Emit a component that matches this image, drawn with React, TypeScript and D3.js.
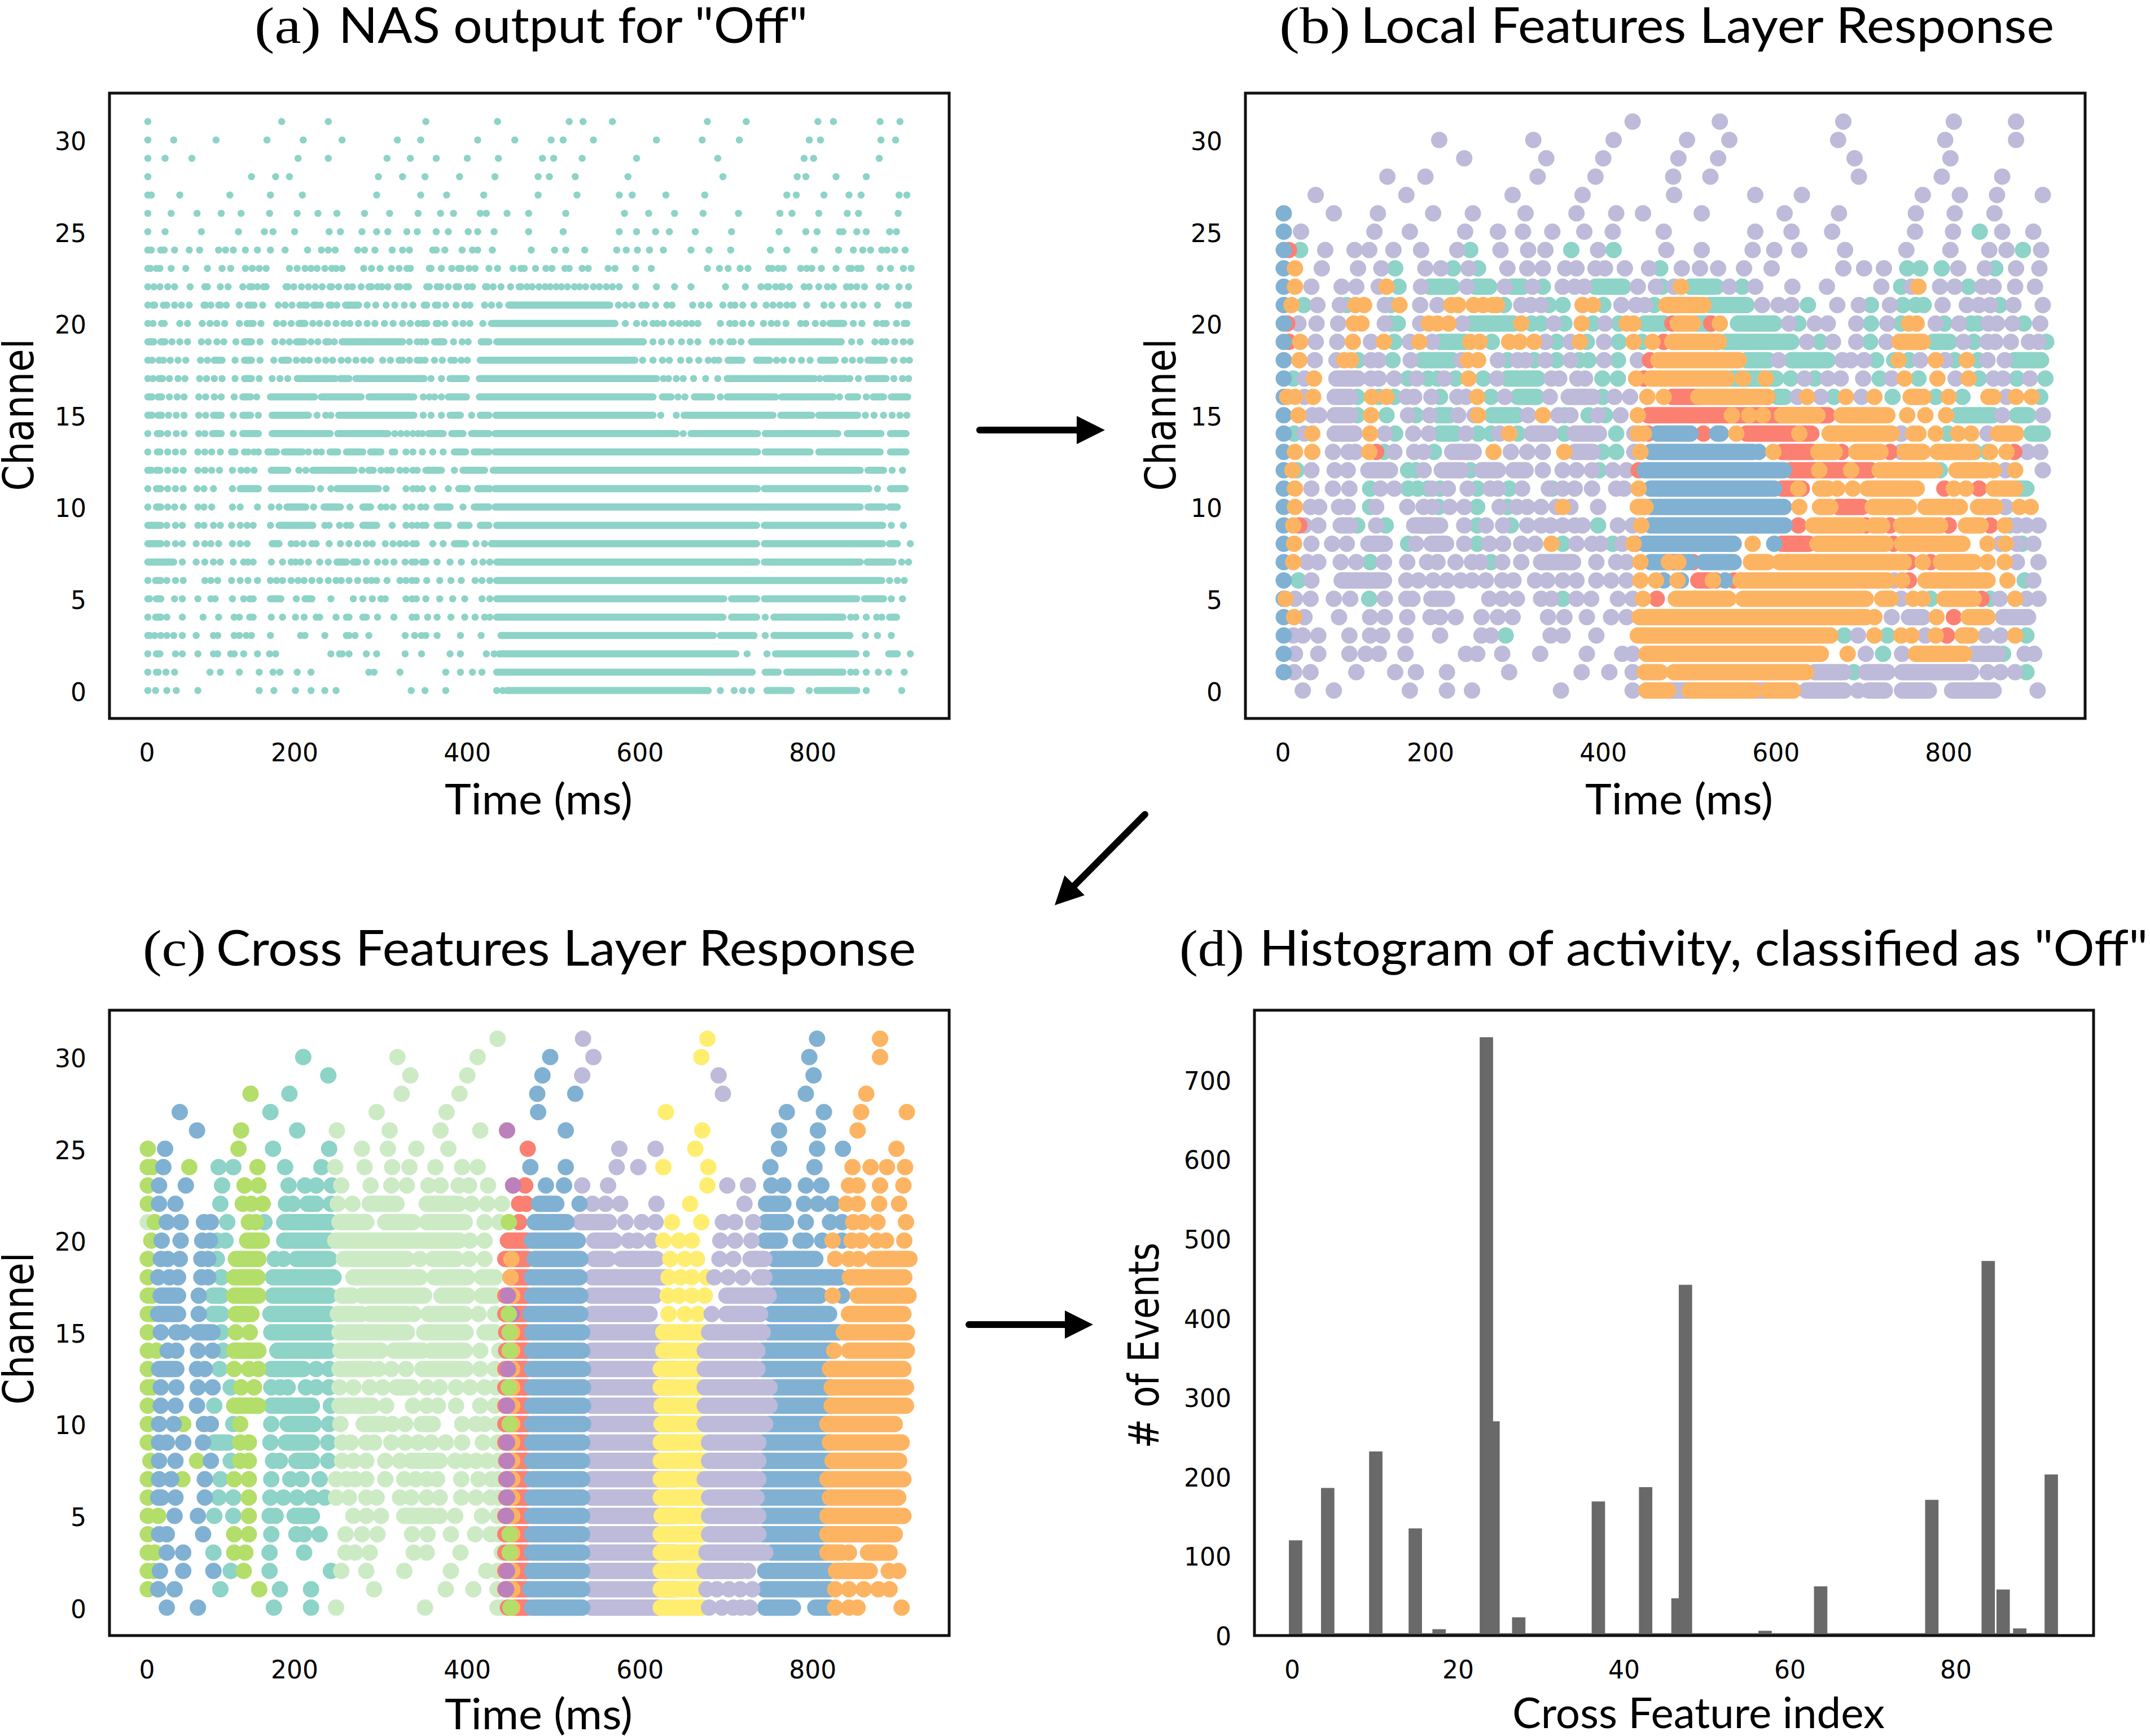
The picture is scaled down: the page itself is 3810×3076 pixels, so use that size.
import React from "react";
import * as d3 from "d3";

type Mark = number | [number, number];
type Rows = Record<number, Mark[]>;

const timeTickPositions = [29, 200, 400, 600, 800];
const timeTickLabels = ["0", "200", "400", "600", "800"];
const channelTicks = [0, 5, 10, 15, 20, 25, 30];
const eventTicks = [0, 100, 200, 300, 400, 500, 600, 700];
const featureTicks = [0, 20, 40, 60, 80];

const SET3 = { teal: "#8dd3c7", yellow: "#ffed6f", lav: "#bebada", red: "#fb8072", blue: "#80b1d3", orange: "#fdb462", lime: "#b3de69", green: "#ccebc5", magenta: "#bc80bd" };

const nasRows: Rows = {
  31: [30,185,239,352,435,518,534,568,678,723,806,824,878,901],
  30: [30,60,109,168,210,255,319,346,412,455,497,511,546,619,672,715,796,809,879,896],
  29: [30,50,81,204,239,307,334,364,400,436,487,500,533,596,690,790,801,877],
  28: [30,150,178,194,297,325,351,391,432,482,495,525,586,696,782,792,827,862],
  27: [30,34,67,125,172,209,295,346,376,419,482,527,576,591,630,675,770,781,813,842,856,900,909],
  26: [30,57,87,115,138,171,203,227,249,281,310,343,369,384,415,422,446,471,514,582,610,640,673,714,762,776,807,840,853,899],
  25: [30,50,92,135,165,175,200,240,253,278,295,308,330,342,364,378,401,412,431,471,511,576,596,618,634,664,706,761,792,805,831,835,851,862,889,897],
  24: [30,34,45,49,61,78,90,112,120,129,143,157,172,189,215,231,239,247,273,281,293,313,325,333,360,364,374,394,406,412,429,474,501,514,536,573,584,597,611,627,659,680,705,751,770,802,830,847,858,867,880,886,895,907],
  23: [30,33,40,44,57,74,99,116,126,143,151,159,167,194,203,212,219,226,235,243,248,255,280,289,299,312,321,330,334,356,358,370,382,390,393,402,409,425,435,453,462,466,479,491,498,513,518,533,540,563,571,595,613,678,692,702,716,725,749,753,760,766,786,793,799,810,827,842,845,852,856,878,890,905,914],
  22: [30,37,44,53,61,79,96,99,114,123,140,148,151,157,164,167,190,192,199,208,216,224,232,241,243,251,261,267,277,286,289,296,301,308,319,322,329,332,353,356,365,369,378,387,390,400,406,421,423,430,439,450,460,462,469,475,483,490,496,503,509,516,524,530,537,546,553,561,568,576,595,619,640,659,699,722,740,747,749,757,763,765,773,790,796,807,817,824,839,844,851,860,877,885,900,911],
  21: [30,36,38,48,52,61,69,78,95,97,103,112,114,121,136,146,149,153,163,181,189,197,206,211,214,222,225,230,240,243,249,[259,274],284,294,306,316,327,337,350,353,363,366,375,387,397,403,420,428,437,[448,565],575,583,591,602,607,618,631,637,661,671,680,696,705,710,719,732,746,754,762,770,777,793,813,822,836,848,858,875,899,908,911],
  20: [30,36,46,49,67,76,93,102,110,119,136,145,149,152,161,179,187,196,[205,212],221,229,238,248,257,264,274,284,293,304,314,325,334,343,349,353,364,366,374,386,395,403,418,[428,571],583,596,605,615,620,627,637,645,653,660,667,693,704,710,719,729,743,752,759,769,786,792,803,812,[820,836],847,857,874,881,885,897,906,909],
  19: [[30,37],[45,50],58,67,76,92,100,110,118,132,[142,150],160,177,186,194,[202,211],219,227,[236,240],246,[255,325],333,342,347,352,[362,373],384,394,401,[416,425],[434,604],615,625,636,648,658,667,684,693,704,708,717,[729,833],845,855,872,880,885,895,905,913],
  18: [30,35,43,48,56,65,74,91,99,[107,116],131,[142,150],160,176,[185,193],202,210,217,227,236,244,254,262,271,280,288,302,311,321,325,333,342,346,351,362,371,381,385,393,400,[415,594],603,615,626,634,647,657,668,679,686,691,[702,718],[735,750],758,766,776,787,797,[809,826],837,846,855,[864,883],894,905,912],
  17: [30,36,[43,47],55,65,73,90,98,107,116,131,[142,150],159,174,183,192,[203,247],[253,263],[271,349],350,358,370,[380,399],[414,619],627,633,642,650,662,676,690,[701,802],808,[815,838],843,853,[864,885],894,904,911],
  16: [[30,35],[42,46],55,64,72,89,97,107,115,130,[140,149],156,[172,223],[231,277],[286,338],349,356,362,370,[378,399],[414,615],[626,636],644,652,[663,683],693,[701,757],[764,824],831,[841,852],862,[870,882],[891,910]],
  15: [[30,35],[42,46],54,63,72,89,97,[106,115],129,[140,149],158,[174,216],226,236,242,[251,338],349,358,370,[380,392],405,[415,425],[433,615],624,642,[651,754],[763,799],[807,852],861,871,882,892,901,909],
  14: [30,[41,45],53,63,72,89,96,[105,115],129,[140,158],[174,241],[250,308],316,323,330,337,343,348,[355,372],[382,395],[405,425],[432,642],650,[659,736],[745,829],[840,879],[890,908]],
  13: [30,[41,44],53,62,71,88,96,104,114,[127,131],142,146,153,158,[169,179],[188,209],216,225,231,[241,250],[260,279],[288,300],313,316,329,337,348,360,372,[385,398],[408,425],[432,736],[745,797],[807,878],[890,908]],
  12: [[30,34],[40,44],53,62,71,88,96,104,113,128,138,145,153,[173,192],205,213,[221,269],278,[286,291],300,307,312,322,329,337,342,[352,370],385,[395,420],[430,855],[864,882],892,904],
  11: [30,[40,45],53,62,71,87,95,106,128,[137,158],[173,216],220,230,242,[249,297],306,329,337,342,348,360,378,[390,400],[412,426],[432,736],[744,865],875,[890,907]],
  10: [30,[40,45],53,61,71,88,95,104,128,137,157,173,182,[191,213],222,[234,253],264,[279,288],300,306,314,329,336,346,352,[365,380],395,[408,425],[432,855],[864,882],[889,898]],
  9: [[30,45],52,62,70,88,95,106,114,127,137,145,152,172,[182,221],235,240,252,260,265,[279,295],313,329,336,342,348,352,[365,378],[392,402],[415,425],[434,735],[744,881],891,905],
  8: [[30,45],52,62,70,86,96,103,112,128,137,145,[174,182],196,202,210,220,225,240,253,263,273,283,290,305,314,322,329,337,341,360,372,[385,398],410,420,[428,735],[744,881],[889,898],913],
  7: [[30,60],70,86,96,106,114,129,141,146,152,173,186,196,201,207,216,229,239,[249,260],[268,273],283,296,305,315,328,336,340,348,352,365,380,393,408,418,426,[434,735],[744,855],[863,893],903,911],
  6: [30,[39,45],52,62,71,96,103,111,127,137,146,157,172,179,186,196,204,211,220,229,239,248,254,263,273,283,289,295,307,322,329,336,341,353,368,381,393,409,417,426,[434,880],889,898,906],
  5: [30,32,[40,45],61,70,88,103,108,128,141,148,152,[172,184],202,[212,220],242,268,279,290,300,305,329,336,341,352,368,383,397,417,426,[434,697],[706,735],[744,851],[860,882],891,904],
  4: [30,[39,45],52,70,94,112,130,136,148,152,173,186,201,211,225,229,248,260,263,279,283,296,315,336,341,354,365,381,397,409,420,426,[434,696],[706,735],745,[755,835],844,850,862,874,880,[889,897]],
  3: [30,32,38,45,52,60,70,86,106,111,130,136,144,150,172,207,212,235,260,263,270,286,328,339,347,352,365,392,416,[439,685],[693,732],745,[755,843],861,875,891],
  2: [30,[40,44],62,70,88,106,111,126,130,141,157,171,178,242,252,255,263,283,295,328,347,380,392,422,431,[437,711],724,747,[757,850],862,[888,898],913],
  1: [30,40,42,51,61,102,114,136,159,175,183,203,219,286,292,322,375,392,406,417,[434,730],[745,760],[770,835],844,850,862,876,888,906],
  0: [30,39,52,63,88,159,176,201,219,235,248,335,351,375,434,441,[446,679],693,709,719,729,[747,775],796,[805,851],862,903],
};

const localTeal: Rows = {
  25: [836],
  24: [49,246,363,412,886],
  23: [159,226,255,466,752,767,792,854],
  22: [163,[199,225],[252,268],[294,307],330,[391,423],468,[501,531],561,745,823],
  21: [53,103,154,285,337,353,400,459,[523,566],637,710,747,762,771,859],
  20: [154,162,[247,296],317,328,355,388,418,[448,471],508,[510,525],[556,598],626,710,745,795,826,834,887],
  19: [158,[211,240],271,346,381,418,445,[541,618],651,709,[782,801],829,913],
  18: [116,156,[190,225],289,320,346,372,383,417,[566,591],[618,660],716,737,754,807,834,[876,907]],
  17: [41,174,197,208,229,261,[289,324],399,417,[548,600],617,645,720,765,835,879,912],
  16: [115,140,158,211,270,[301,323],399,[602,610],667,735,785,816,906],
  15: [115,149,183,[209,222],[271,300],355,383,402,[810,851],[879,892]],
  14: [42,159,[211,229],255,270,301,355,415,745,799,[896,909]],
  13: [146,204,399,415,830,845],
  12: [45,174,183,246,395,790],
  11: [130,174,185,197,211,254,291,341,[880,890]],
  10: [130,209,254,289,866],
  9: [115,148,[190,200],254,293,394,870],
  8: [174,254,353,411,885],
  7: [130,270],
  6: [47,888],
  5: [129,353,779,848],
  3: [287,679,729,890],
  2: [724,863],
  1: [690,890],
};

const localPurple: Rows = {
  31: [434,535,678,806,878],
  30: [210,319,412,497,546,672,796,878],
  29: [239,334,400,487,533,691,802],
  28: [150,194,324,391,481,524,696,792,862],
  27: [67,172,295,376,482,576,630,770,813,856,909],
  26: [88,139,203,249,310,369,415,446,514,610,673,762,807,853],
  25: [50,135,176,240,278,307,341,378,411,470,576,618,665,761,805,862,898],
  24: [78,112,129,157,189,231,281,313,333,394,473,514,573,598,627,680,751,802,847,867,907],
  23: [74,116,143,194,212,244,289,312,330,356,369,391,402,425,453,491,512,533,563,595,678,702,725,811,842,878,905],
  22: [62,97,114,140,189,242,286,318,353,367,378,440,461,482,546,576,619,659,722,757,790,807,839,852,877,900],
  21: [69,95,147,188,208,305,316,328,421,438,448,584,603,618,671,696,732,793,821,835,848,875,909],
  20: [47,68,93,147,188,237,343,402,615,645,660,693,729,785,812,846,856,874,906],
  19: [67,92,131,176,202,333,362,401,636,666,693,728,817,845,854,872,893,904],
  18: [66,91,131,140,177,236,278,301,310,333,362,401,440,603,677,687,702,767,796,845,865],
  17: [54,[91,116],131,140,158,184,216,277,340,349,370,379,633,660,675,701,734,808,852,863,894],
  16: [54,[89,107],172,181,201,231,241,286,338,[360,388],413,431,625,652,699,867],
  15: [63,71,[89,107],174,199,232,251,313,348,362,394,420,862,909],
  14: [54,[89,112],147,180,198,241,280,[317,339],[367,395],436,745,845],
  13: [87,105,113,158,181,192,[225,250],293,312,330,[367,388],436,745,891,906],
  12: [62,89,104,[128,153],192,[213,236],[259,278],[296,310],330,353,369,387,411,427,866,909],
  11: [62,87,106,142,158,202,220,243,269,278,306,337,353,367,387,415,424],
  10: [61,71,94,104,137,173,192,202,222,239,280,300,312,328,346,362,394,865],
  9: [54,70,[96,107],137,[181,211],239,264,284,312,328,339,353,367,376,417,434,800,879,890,904],
  8: [62,86,103,[128,147],183,[201,218],239,268,284,305,321,369,387,397,422,435,860,879,898],
  7: [57,70,96,114,146,173,196,208,229,248,258,283,305,[328,365],392,415,427,879,904],
  6: [62,[97,146],172,186,203,219,235,248,264,283,296,321,335,353,369,392,409,427,737,898],
  5: [43,61,88,107,147,172,179,[201,219],268,283,300,328,340,369,386,417,434,745,859,890,904],
  4: [54,94,130,147,173,200,211,229,259,278,295,336,355,381,409,427,734,[754,770],[863,892]],
  3: [41,52,70,106,130,144,171,211,259,270,339,353,392,695,773,843,860],
  2: [43,70,106,125,140,171,241,254,283,327,381,422,434,704,746,[829,857],888,899],
  1: [42,61,114,159,183,219,291,375,407,434,[645,679],[704,729],[746,826],845,860,877],
  0: [52,88,176,219,248,351,434,[450,620],[635,679],695,[707,726],[746,777],[804,852],903],
};

const localRed: Rows = {
  24: [36],
  20: [34,480,525],
  19: [36,470],
  18: [454],
  17: [447],
  16: [[480,510],590],
  15: [[452,660]],
  14: [452,516,[566,641]],
  13: [137,[607,642],676,732,876],
  12: [441,[617,710]],
  11: [[607,630],795,835],
  10: [[672,700]],
  9: [48,626,704,732,800,848],
  8: [437,[607,638],736],
  7: [504,754,779],
  6: [[510,530],551,746,754],
  5: [462,838],
  4: [806],
  3: [798],
};

const localBlue: Rows = {
  26: [30], 25: [30], 24: [30], 23: [30], 22: [30], 21: [30], 20: [30], 19: [30], 18: [30], 17: [30], 16: [30], 15: [30],
  14: [30,[463,501],[532,536]],
  13: [30,[455,573],580],
  12: [30,[448,609]],
  11: [30,[455,598]],
  10: [30,[455,609]],
  9: [30,[455,610]],
  8: [30,[448,551],598],
  7: [30,[455,500],[516,551]],
  6: [30,470,490,541],
  5: [30], 4: [30], 3: [30], 2: [30], 1: [30],
};

const localOrange: Rows = {
  23: [43],
  22: [43,149,490,765],
  21: [39,113,123,164,224,232,250,261,272,277,376,388,[473,516]],
  20: [111,120,198,208,221,305,375,427,435,[486,500],504,535,754,763],
  19: [49,110,146,187,246,257,291,303,320,373,435,457,[480,534],[743,770]],
  18: [48,100,108,243,255,[464,557],742,785,821],
  17: [65,244,438,[455,543],562,588,749,787,823],
  16: [34,43,64,132,149,254,451,470,[510,590],636,681,714,[756,771],800,[846,852],878,896],
  15: [47,131,255,330,440,549,569,585,[607,648],[676,729],752,773,797],
  14: [63,130,291,440,447,554,627,[662,734],759,765,785,811,826,[857,878]],
  13: [43,63,129,273,355,443,597,[649,668],[693,721],[749,770],[787,828],848,867],
  12: [40,650,687,[720,784],[809,843],852,877],
  11: [43,441,626,[651,660],671,689,[706,763],806,820,[852,877]],
  10: [43,353,[440,449],627,[651,663],[712,754],[773,813],[834,854],882,895],
  9: [41,444,[643,698],[713,723],[745,790],[820,837],865],
  8: [42,340,435,573,[648,727],[746,816],845,866],
  7: [41,443,476,487,[571,590],[604,748],770,[791,829],845,865],
  6: [443,461,486,527,[559,729],746,[773,845],868],
  5: [32,446,[484,545],[562,704],[723,733],759,770,[795,829],877],
  4: [42,[442,704],714,786,[823,845]],
  3: [[440,663],714,745,757,785,[816,826],877],
  2: [[450,652],683,[762,818]],
  1: [[448,466],[482,635]],
  0: [[450,475],[500,574],[590,620]],
};

const crossPurpleA: Rows = {
  23: [533,563], 22: [545,560,577,619], 21: [[531,564],583,602,618],
  20: [[547,570],587,597,614], 19: [[547,563],[578,619]], 18: [[545,628]], 17: [[544,617]], 16: [[544,611]],
  15: [[544,625]], 14: [[544,630]], 13: [[544,640]], 12: [[544,640]], 11: [[544,640]], 10: [[544,640]], 9: [[544,640]],
  8: [[544,640]], 7: [[544,640]], 6: [[544,640]], 5: [[544,640]], 4: [[544,640]], 3: [[544,640]], 2: [[544,640]], 1: [[544,640]], 0: [[544,640]],
  31: [534], 30: [546], 29: [533], 26: [], 25: [576,618], 24: [573,598],
};
const crossYellow: Rows = {
  31: [678], 30: [671], 27: [630], 26: [672], 25: [664], 24: [627,679], 23: [678], 22: [658], 21: [637,671],
  20: [627,645,660], 19: [635,652,666], 18: [633,647,660,677], 17: [632,645,660,675], 16: [633,652,667],
  15: [[627,680]], 14: [[627,667]], 13: [[624,673]], 12: [[624,673]], 11: [[625,673]], 10: [[625,673]], 9: [[624,673]],
  8: [[624,675]], 7: [[624,673]], 6: [[624,673]], 5: [[625,673]], 4: [[624,673]], 3: [[624,673]], 2: [[624,673]], 1: [[624,673]], 0: [[624,673]],
};
const crossTeal: Rows = {
  30: [210], 29: [239], 28: [194], 27: [172], 26: [203], 25: [175,240], 24: [112,129,189,231],
  23: [116,193,212,225,243], 22: [114,190,198,[215,225],242], 21: [122,165,[188,242]], 20: [110,120,[188,240]],
  19: [110,177,187,[202,240]], 18: [115,[175,245]], 17: [[105,115],[175,240]], 16: [[105,115],[172,240]],
  15: [115,[173,240]], 14: [117,[180,240]], 13: [113,[173,210],225,240], 12: [126,173,183,192,213,225,240],
  11: [107,[173,220],242], 10: [129,173,[192,222],240], 9: [[107,123],172,[190,220],239], 8: [126,175,183,[202,220],239],
  7: [114,173,195,208,229], 6: [112,129,172,187,203,220,235], 5: [107,129,171,178,[200,220]], 4: [173,202,211,229],
  3: [106,171,211], 2: [126,171,242], 1: [114,183,219], 0: [176,219],
};
const crossGreen: Rows = {
  31: [435], 30: [319,412], 29: [334,400], 28: [324,391], 27: [295,376], 26: [249,310,369,415], 25: [278,308,341,378],
  24: [247,281,313,333,363,394,412], 23: [254,288,312,330,355,369,390,402,424],
  22: [250,267,[287,318],[353,390],405,423,440], 21: [30,[252,283],[305,337],[353,397],420,437],
  20: [[247,390],403,420], 19: [[257,330],345,[360,387],402,420], 18: [[268,345],[362,400],[417,432]],
  17: [[255,267],[278,350],[370,400],[417,432]], 16: [[250,277],[287,330],338,[355,397],413,432],
  15: [[252,330],[350,398],[420,432]], 14: [[253,300],[315,348],[358,397],415,437], 13: [[252,287],297,312,329,[348,398],415,432],
  12: [252,268,287,302,[318,335],353,368,387,403,420,433], 11: [[252,290],306,337,353,366,387,415,432],
  10: [253,[280,302],313,328,[347,360],394,410,420,435], 9: [255,265,283,292,312,328,343,358,375,394,418,435],
  8: [255,268,283,305,322,[335,368],386,398,410,423,436], 7: [248,260,270,283,305,327,340,353,365,393,413,428,436],
  6: [248,263,283,295,322,335,353,368,393,410,427,436], 5: [268,283,300,[327,360],368,386,417,435], 4: [259,278,296,336,354,381,409,427,436],
  3: [259,270,287,338,353,392,440], 2: [254,283,327,381,422,435], 1: [292,375,407,435], 0: [248,351,435,440],
};
const crossRed: Rows = {
  25: [470], 23: [467], 22: [460,468], 21: [460], 20: [[447,470]], 19: [[444,470]], 18: [[450,470]],
  17: [[444,470]], 16: [[444,470]], 15: [[445,470]], 14: [[445,470]], 13: [[444,470]], 12: [[444,470]], 11: [[444,470]], 10: [[444,470]],
  9: [[444,470]], 8: [[445,470]], 7: [[445,470]], 6: [[445,470]], 5: [[444,470]], 4: [[444,470]], 3: [[444,470]], 2: [[444,470]], 1: [[444,470]], 0: [[447,470]],
};
const crossMidOrange: Rows = {
  19: [451], 18: [450], 17: [452], 16: [452], 15: [452], 14: [452], 13: [452], 12: [452], 11: [452], 10: [452], 9: [452],
  8: [452], 7: [452], 6: [452], 5: [452], 4: [452], 3: [452], 2: [452], 1: [452], 0: [452],
};
const crossMagenta: Rows = {
  26: [446], 23: [453], 17: [447], 16: [452], 13: [447], 11: [446], 9: [446], 8: [446], 7: [446], 6: [446], 5: [445], 2: [446], 1: [445],
};
const crossLime: Rows = {
  28: [149], 26: [138], 25: [30,135], 24: [30,35,78,157], 23: [30,142,158], 22: [30,140,150,163], 21: [38,147,155,448], 20: [34,[145,162]],
  19: [30,[132,158]], 18: [30,[130,157]], 17: [30,35,[130,158]], 16: [30,35,[132,150],448], 15: [30,132,148,449],
  14: [30,40,[130,158],449], 13: [30,130,147,158], 12: [30,35,138,153,448], 11: [30,[130,158]], 10: [30,71,137,449],
  9: [30,137,147], 8: [33,87,137,147], 7: [30,70,130,147], 6: [30,147], 5: [30,42,147], 4: [30,130,147,449],
  3: [30,38,130,143,449], 2: [30,37,141], 1: [30,159], 0: [450],
};
const crossBlue: Rows = {
  30: [496], 29: [487], 28: [481,525], 27: [67,482], 26: [87,514], 25: [50], 24: [48,473,514], 23: [43,74,491,512],
  22: [43,62,[483,503],530], 21: [52,68,95,103,[478,515]], 20: [46,68,93,102,[475,528]], 19: [45,53,67,92,100,[478,531]],
  18: [42,55,65,92,100,[475,530]], 17: [[45,65],89,[475,531]], 16: [[42,65],89,[473,531]], 15: [45,63,71,[88,105],[475,533]],
  14: [53,63,88,105,[475,533]], 13: [[43,63],87,96,[475,534]], 12: [45,63,88,105,[475,534]], 11: [45,62,87,[475,534]],
  10: [43,60,95,103,[475,534]], 9: [43,52,71,94,[475,533]], 8: [43,62,103,[475,533]], 7: [43,57,96,[475,533]],
  6: [[42,46],62,96,[475,533]], 5: [61,88,[475,533]], 4: [43,52,94,[475,533]], 3: [52,71,[475,533]], 2: [44,71,106,[475,533]],
  1: [42,61,[473,533]], 0: [52,88,[475,533]],
};
const crossBlueLate: Rows = {
  31: [805], 30: [796], 29: [801], 28: [792], 27: [770,813], 26: [761,806], 25: [761,805,835], 24: [751,802], 23: [752,766,792,810],
  22: [[746,766],790,806,823], 21: [[746,769],792,820,834], 20: [[745,762],786,792,811,834], 19: [[755,803]], 18: [[753,831]],
  17: [[755,808],834], 16: [[752,819]], 15: [[749,830]], 14: [[742,824]], 13: [[742,815]], 12: [[755,822]], 11: [[755,822]], 10: [[749,815]],
  9: [[742,820]], 8: [[742,820]], 7: [[742,815]], 6: [[740,815]], 5: [[742,815]], 4: [[742,815]], 3: [[752,815]], 2: [[745,820]], 1: [[744,819]], 0: [[745,777],[803,819]],
};
const crossPurpleB: Rows = {
  29: [691], 28: [696], 23: [701,725], 22: [721], 21: [696,710,731], 20: [693,710,729], 19: [692,708,[728,744]], 18: [686,702,719,[738,744]],
  17: [[700,749]], 16: [683,[700,739]], 15: [[680,742]], 14: [[675,736]], 13: [[675,736]], 12: [[675,750]], 11: [[675,750]], 10: [[675,745]],
  9: [[680,737]], 8: [[680,737]], 7: [[675,737]], 6: [[680,735]], 5: [[680,737]], 4: [[680,737]], 3: [[677,745]], 2: [[675,718],725], 1: [677,689,703,716,730], 0: [680,695,708,717,727],
};
const crossOrangeLate: Rows = {
  31: [878], 30: [878], 28: [862], 27: [856,909], 26: [852], 25: [897], 24: [846,867,886,907], 23: [842,852,878,905],
  22: [839,852,877,900], 21: [847,858,875,908], 20: [823,845,856,874,885,906], 19: [826,842,853,[870,912]], 18: [[843,906]],
  17: [823,[852,911]], 16: [[842,905]], 15: [[836,909]], 14: [825,[842,909]], 13: [[820,905]], 12: [[822,908]], 11: [[822,908]], 10: [[817,895]],
  9: [[820,903]], 8: [[823,900]], 7: [[817,905]], 6: [[820,899]], 5: [[817,905]], 4: [[817,895]], 3: [[817,833],842,[864,889]], 2: [[827,866],888,899], 1: [826,842,859,876,889], 0: [826,842,852,903],
};

const histogramFeature = [0.4,4.27,10.07,14.83,17.7,23.4,24.2,27.3,36.9,42.6,46.5,47.4,57,63.7,77.1,83.9,85.7,87.7,91.5];
const histogramEvents = [120,186,232,135,8,754,270,23,169,187,47,442,6,62,171,472,58,9,203];

const W = 1488;
const H = 1108;
const xTime = d3.scaleLinear().domain([-14.4, 958]).range([0, W]);
const yChannel = d3.scaleLinear().domain([-1.52, 32.55]).range([H, 0]);
const tickFont = "'DejaVu Sans'";

function Marks({ rows, color, size }: { rows: Rows; color: string; size: number }) {
  const out: React.ReactNode[] = [];
  Object.entries(rows).forEach(([ch, marks]) => {
    const y = yChannel(+ch);
    marks.forEach((m, i) => {
      if (typeof m === "number") out.push(<circle key={ch + "-" + i} cx={xTime(m)} cy={y} r={size / 2} fill={color} />);
      else out.push(<line key={ch + "-" + i} x1={xTime(m[0])} x2={xTime(m[1])} y1={y} y2={y} stroke={color} strokeWidth={size} strokeLinecap="round" />);
    });
  });
  return <g>{out}</g>;
}

function Frame({ w, h }: { w: number; h: number }) {
  return <rect x={0} y={0} width={w} height={h} fill="none" stroke="#111" strokeWidth={5} />;
}

function Raster({ left, top, layers, size }: { left: number; top: number; layers: { rows: Rows; color: string }[]; size: number }) {
  return (
    <g transform={`translate(${left},${top})`}>
      {layers.map((l, i) => <Marks key={i} rows={l.rows} color={l.color} size={size} />)}
      <Frame w={W} h={H} />
      {timeTickPositions.map((t, i) => (
        <text key={t} x={xTime(t)} y={H + 60} textAnchor="middle" dominantBaseline="central" fontFamily={tickFont} fontSize={44}>{timeTickLabels[i]}</text>
      ))}
      {channelTicks.map((c) => (
        <text key={c} x={-41} y={yChannel(c) + 2.5} textAnchor="end" dominantBaseline="central" fontFamily={tickFont} fontSize={44}>{c}</text>
      ))}
    </g>
  );
}

function Title({ tag, tagX, tagW, rest, restX, restW, y }: { tag: string; tagX: number; tagW: number; rest: string; restX: number; restW: number; y: number }) {
  return (
    <g>
      <text x={tagX} y={y} fontFamily="'Liberation Serif'" fontSize={92} textLength={tagW} lengthAdjust="spacingAndGlyphs">{tag}</text>
      <text x={restX} y={y} fontFamily="Lato" fontSize={88} textLength={restW} lengthAdjust="spacingAndGlyphs">{rest}</text>
    </g>
  );
}

function AxisLabel({ x, y, w, text }: { x: number; y: number; w: number; text: string }) {
  return <text x={x} y={y} fontFamily="Lato" fontSize={76} textLength={w} lengthAdjust="spacingAndGlyphs">{text}</text>;
}

function VerticalLabel({ x, yMid, w, text }: { x: number; yMid: number; w: number; text: string }) {
  return (
    <text transform={`translate(${x},${yMid}) rotate(-90)`} textAnchor="middle" fontFamily="'DejaVu Sans'" fontSize={74} textLength={w} lengthAdjust="spacingAndGlyphs">{text}</text>
  );
}

function Arrow({ x1, y1, x2, y2 }: { x1: number; y1: number; x2: number; y2: number }) {
  const a = Math.atan2(y2 - y1, x2 - x1);
  const L = 50;
  const B = 25;
  const bx = x2 - L * Math.cos(a);
  const by = y2 - L * Math.sin(a);
  const head = d3.line()([
    [x2, y2],
    [bx - B * Math.sin(a), by + B * Math.cos(a)],
    [bx + B * Math.sin(a), by - B * Math.cos(a)],
  ]) + "Z";
  return (
    <g>
      <line x1={x1} y1={y1} x2={bx} y2={by} stroke="#000" strokeWidth={12} strokeLinecap="round" />
      <path d={head} fill="#000" />
    </g>
  );
}

function Histogram({ left, top }: { left: number; top: number }) {
  const w = 1487;
  const h = 1108;
  const x = d3.scaleLinear().domain([-4.56, 96.6]).range([0, w]);
  const y = d3.scaleLinear().domain([0, 788]).range([h, 0]);
  const bw = 23.7;
  return (
    <g transform={`translate(${left},${top})`}>
      <line x1={x(0.4)} x2={x(91.5)} y1={y(2)} y2={y(2)} stroke="#696969" strokeWidth={3} />
      {histogramFeature.map((f, i) => (
        <rect key={i} x={x(f) - bw / 2} width={bw} y={y(histogramEvents[i])} height={y(0) - y(histogramEvents[i])} fill="#696969" />
      ))}
      <Frame w={w} h={h} />
      {featureTicks.map((t) => (
        <text key={t} x={x(t)} y={h + 60} textAnchor="middle" dominantBaseline="central" fontFamily={tickFont} fontSize={44}>{t}</text>
      ))}
      {eventTicks.map((t) => (
        <text key={t} x={-41} y={y(t) + 1.5} textAnchor="end" dominantBaseline="central" fontFamily={tickFont} fontSize={44}>{t}</text>
      ))}
    </g>
  );
}

export default function App() {
  return (
    <svg width={3810} height={3076} viewBox="0 0 3810 3076" style={{ position: "absolute", left: 0, top: 0, background: "#fff", display: "block" }}>
      <Title tag="(a)" tagX={451} tagW={118} rest={'NAS output for "Off"'} restX={600} restW={831} y={76} />
      <Title tag="(b)" tagX={2267} tagW={126} rest="Local Features Layer Response" restX={2411} restW={1229} y={76} />
      <Title tag="(c)" tagX={253} tagW={112} rest="Cross Features Layer Response" restX={383} restW={1240} y={1711} />
      <Title tag="(d)" tagX={2090} tagW={115} rest={'Histogram of activity, classified as "Off"'} restX={2232} restW={1574} y={1711} />

      <Raster left={194} top={165} size={12.6} layers={[{ rows: nasRows, color: SET3.teal }]} />
      <Raster left={2207} top={165} size={29} layers={[
        { rows: localTeal, color: SET3.teal },
        { rows: localPurple, color: SET3.lav },
        { rows: localRed, color: SET3.red },
        { rows: localBlue, color: SET3.blue },
        { rows: localOrange, color: SET3.orange },
      ]} />
      <Raster left={194} top={1790} size={29} layers={[
        { rows: crossPurpleA, color: SET3.lav },
        { rows: crossYellow, color: SET3.yellow },
        { rows: crossTeal, color: SET3.teal },
        { rows: crossGreen, color: SET3.green },
        { rows: crossRed, color: SET3.red },
        { rows: crossMidOrange, color: SET3.orange },
        { rows: crossMagenta, color: SET3.magenta },
        { rows: crossLime, color: SET3.lime },
        { rows: crossBlue, color: SET3.blue },
        { rows: crossBlueLate, color: SET3.blue },
        { rows: crossPurpleB, color: SET3.lav },
        { rows: crossOrangeLate, color: SET3.orange },
      ]} />
      <Histogram left={2223} top={1790} />

      <AxisLabel x={788} y={1443} w={333} text="Time (ms)" />
      <AxisLabel x={2809} y={1443} w={333} text="Time (ms)" />
      <AxisLabel x={788} y={3064} w={333} text="Time (ms)" />
      <AxisLabel x={2680} y={3062} w={660} text="Cross Feature index" />

      <VerticalLabel x={59} yMid={735} w={270} text="Channel" />
      <VerticalLabel x={2083} yMid={735} w={270} text="Channel" />
      <VerticalLabel x={59} yMid={2354} w={270} text="Channel" />
      <VerticalLabel x={2053} yMid={2384} w={365} text="# of Events" />

      <Arrow x1={1736} y1={762} x2={1958} y2={762} />
      <Arrow x1={2029} y1={1443} x2={1869} y2={1604} />
      <Arrow x1={1717} y1={2347} x2={1937} y2={2347} />
    </svg>
  );
}
